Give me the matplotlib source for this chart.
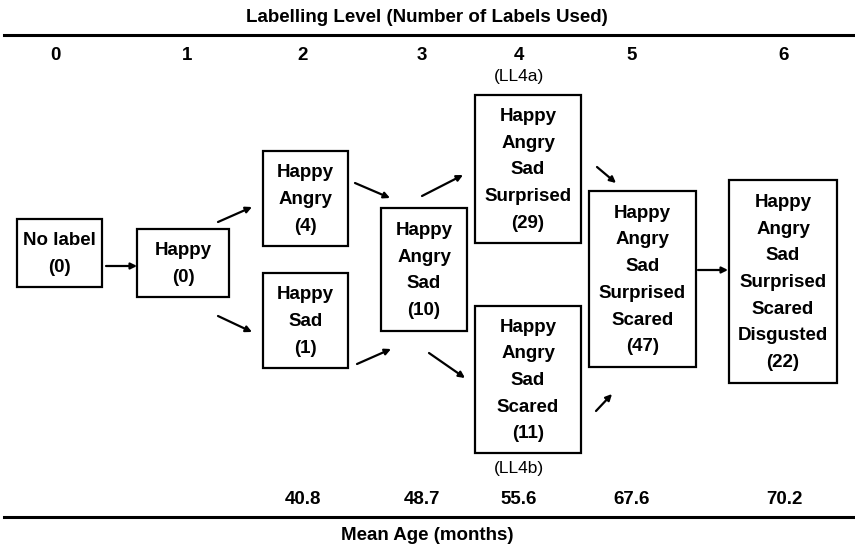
import matplotlib.pyplot as plt
from matplotlib.patches import Rectangle

# data
levels = ['0', '1', '2', '3', '4', '5', '6']
mean_ages = ['', '', '40.8', '48.7', '55.6', '67.6', '70.2']
box_labels = [
    ['No label'],
    ['Happy'],
    ['Happy', 'Angry'],
    ['Happy', 'Sad'],
    ['Happy', 'Angry', 'Sad'],
    ['Happy', 'Angry', 'Sad', 'Surprised'],
    ['Happy', 'Angry', 'Sad', 'Scared'],
    ['Happy', 'Angry', 'Sad', 'Surprised', 'Scared'],
    ['Happy', 'Angry', 'Sad', 'Surprised', 'Scared', 'Disgusted'],
]
box_counts = [0, 0, 4, 1, 10, 29, 11, 47, 22]

# layout (pixels, origin top left)
level_x = [55, 187, 303, 422, 519, 632, 784]
boxes = [  # x0, y0, x1, y1
    (17, 219, 102, 287),
    (137, 229, 229, 297),
    (263, 151, 348, 246),
    (263, 273, 348, 368),
    (381, 208, 467, 331),
    (475, 95, 581, 243),
    (475, 306, 581, 453),
    (589, 191, 696, 367),
    (729, 180, 837, 383),
]
arrows = [
    ((106, 266), (137, 266)),
    ((218, 222), (252, 207)),
    ((218, 316), (252, 332)),
    ((355, 183), (390, 198)),
    ((357, 364), (391, 349)),
    ((422, 196), (463, 175)),
    ((429, 353), (465, 378)),
    ((597, 167), (616, 183)),
    ((596, 411), (612, 394)),
    ((698, 270), (728, 270)),
]

plt.rcParams['font.family'] = ['Liberation Sans', 'DejaVu Sans']

fig = plt.figure(figsize=(8.55, 5.49), dpi=100)
ax = fig.add_axes([0, 0, 1, 1])
ax.set_xlim(0, 855)
ax.set_ylim(549, 0)
ax.axis('off')

bold = dict(fontsize=13.5, fontweight='bold', ha='center', va='center')

ax.text(427, 17, 'Labelling Level (Number of Labels Used)', **bold)
ax.plot([4, 855], [35, 35], color='black', lw=2.2)
for x, lv in zip(level_x, levels):
    ax.text(x, 56, lv, **bold)
ax.text(level_x[4], 77, '(LL4a)', fontsize=12.5, ha='center', va='center')

for (x0, y0, x1, y1), words, n in zip(boxes, box_labels, box_counts):
    ax.add_patch(Rectangle((x0, y0), x1 - x0, y1 - y0, fill=False,
                           edgecolor='black', lw=1.6))
    txt = '\n'.join(words + ['(%d)' % n])
    ax.text((x0 + x1) / 2, (y0 + y1) / 2 + 1, txt, linespacing=1.75, **bold)

for (sx, sy), (ex, ey) in arrows:
    ax.annotate('', xy=(ex, ey), xytext=(sx, sy),
                arrowprops=dict(arrowstyle='-|>', color='black', lw=1.6,
                                mutation_scale=9, shrinkA=0, shrinkB=0))

ax.text(level_x[4], 468, '(LL4b)', fontsize=12.5, ha='center', va='center')
for x, age in zip(level_x, mean_ages):
    if age:
        ax.text(x, 500, age, **bold)
ax.plot([4, 855], [517, 517], color='black', lw=2.2)
ax.text(427, 535, 'Mean Age (months)', **bold)

fig.savefig('out.png', dpi=100)
